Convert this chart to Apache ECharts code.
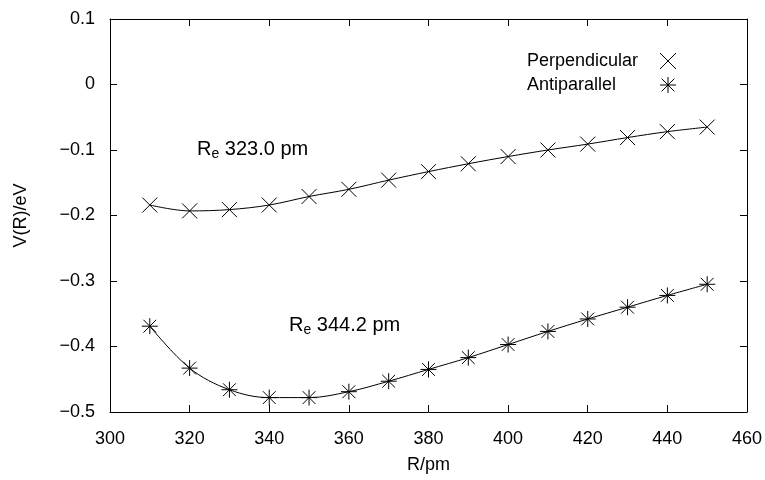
<!DOCTYPE html>
<html>
<head>
<meta charset="utf-8">
<script src="https://cdn.jsdelivr.net/npm/echarts@6/dist/echarts.min.js"></script>
<style>
  html, body { margin: 0; padding: 0; background: #fff; }
  #chart { width: 765px; height: 480px; }
</style>
</head>
<body>
<div id="chart"></div>
<script>
// R values (pm)
var rValues = [310, 320, 330, 340, 350, 360, 370, 380, 390, 400, 410, 420, 430, 440, 450];
// V(R) in eV
var perpendicular = [-0.184, -0.193, -0.191, -0.184, -0.171, -0.160, -0.146, -0.133, -0.121, -0.110, -0.100, -0.091, -0.081, -0.072, -0.065];
var antiparallel = [-0.369, -0.433, -0.466, -0.478, -0.478, -0.469, -0.453, -0.435, -0.417, -0.397, -0.377, -0.358, -0.340, -0.322, -0.305];

var crossSym = "path://M0,0L10,10M10,0L0,10";
var starSym = "path://M5,0L5,10M0,5L10,5M1,1L9,9M9,1L1,9";
var font = "'Liberation Sans', Arial, sans-serif";

function pairs(ys) {
  return rValues.map(function (x, i) { return [x, ys[i]]; });
}

var chart = echarts.init(document.getElementById("chart"));

var reRich = {
  r: { fontFamily: font, fontSize: 20, fill: "#000" },
  s: { fontFamily: font, fontSize: 14, fill: "#000", padding: [10, 0, 0, 0] }
};

chart.setOption({
  animation: false,
  backgroundColor: "#fff",
  textStyle: { fontFamily: font, color: "#000" },
  grid: { left: 110, right: 13, top: 19, bottom: 68 },
  legend: {
    orient: "vertical",
    left: 522,
    top: 47,
    align: "right",
    itemGap: 6,
    itemWidth: 16,
    itemHeight: 16,
    data: [
      { name: "Perpendicular", icon: crossSym },
      { name: "Antiparallel", icon: starSym }
    ],
    formatter: function (name) { return "{t|" + name + "}"; },
    textStyle: {
      fontFamily: font, fontSize: 18, color: "#000",
      rich: { t: { fontFamily: font, fontSize: 18, color: "#000", width: 128, align: "left" } }
    },
    itemStyle: { color: "transparent", borderColor: "#000", borderWidth: 1 },
    lineStyle: { opacity: 0 }
  },
  xAxis: [
    {
      type: "value", min: 300, max: 460, interval: 20,
      name: "R/pm", nameLocation: "middle", nameGap: 44,
      nameTextStyle: { fontFamily: font, fontSize: 18, color: "#000" },
      axisLine: { onZero: false, lineStyle: { color: "#000", width: 1 } },
      axisTick: { inside: true, length: 7, lineStyle: { color: "#000" } },
      axisLabel: { fontFamily: font, fontSize: 18, color: "#000", margin: 18 },
      splitLine: { show: false }
    },
    {
      type: "value", min: 300, max: 460, interval: 20, position: "top",
      axisLine: { onZero: false, lineStyle: { color: "#000", width: 1 } },
      axisTick: { inside: true, length: 7, lineStyle: { color: "#000" } },
      axisLabel: { show: false },
      splitLine: { show: false }
    }
  ],
  yAxis: [
    {
      type: "value", min: -0.5, max: 0.1, interval: 0.1,
      name: "V(R)/eV", nameLocation: "middle", nameGap: 80, nameRotate: 90,
      nameTextStyle: { fontFamily: font, fontSize: 18, color: "#000" },
      axisLine: { show: true, onZero: false, lineStyle: { color: "#000", width: 1 } },
      axisTick: { show: true, inside: true, length: 7, lineStyle: { color: "#000" } },
      axisLabel: {
        fontFamily: font, fontSize: 18, color: "#000", margin: 15,
        formatter: function (v) {
          var s = (Math.round(v * 10) / 10).toString();
          return s.replace("-", "\u2212");
        }
      },
      splitLine: { show: false }
    },
    {
      type: "value", min: -0.5, max: 0.1, interval: 0.1, position: "right",
      axisLine: { show: true, onZero: false, lineStyle: { color: "#000", width: 1 } },
      axisTick: { show: true, inside: true, length: 7, lineStyle: { color: "#000" } },
      axisLabel: { show: false },
      splitLine: { show: false }
    }
  ],
  graphic: [
    {
      type: "text", left: 197, top: 139,
      style: { text: "{r|R}{s|e}{r| 323.0 pm}", rich: reRich }
    },
    {
      type: "text", left: 289, top: 315,
      style: { text: "{r|R}{s|e}{r| 344.2 pm}", rich: reRich }
    }
  ],
  series: [
    {
      name: "Perpendicular",
      type: "line",
      smooth: 0.35,
      data: pairs(perpendicular),
      symbol: crossSym,
      symbolSize: 15,
      lineStyle: { color: "#000", width: 1 },
      itemStyle: { color: "transparent", borderColor: "#000", borderWidth: 1 }
    },
    {
      name: "Antiparallel",
      type: "line",
      smooth: 0.35,
      data: pairs(antiparallel),
      symbol: starSym,
      symbolSize: 16,
      lineStyle: { color: "#000", width: 1 },
      itemStyle: { color: "transparent", borderColor: "#000", borderWidth: 1 }
    }
  ]
});
</script>
</body>
</html>
